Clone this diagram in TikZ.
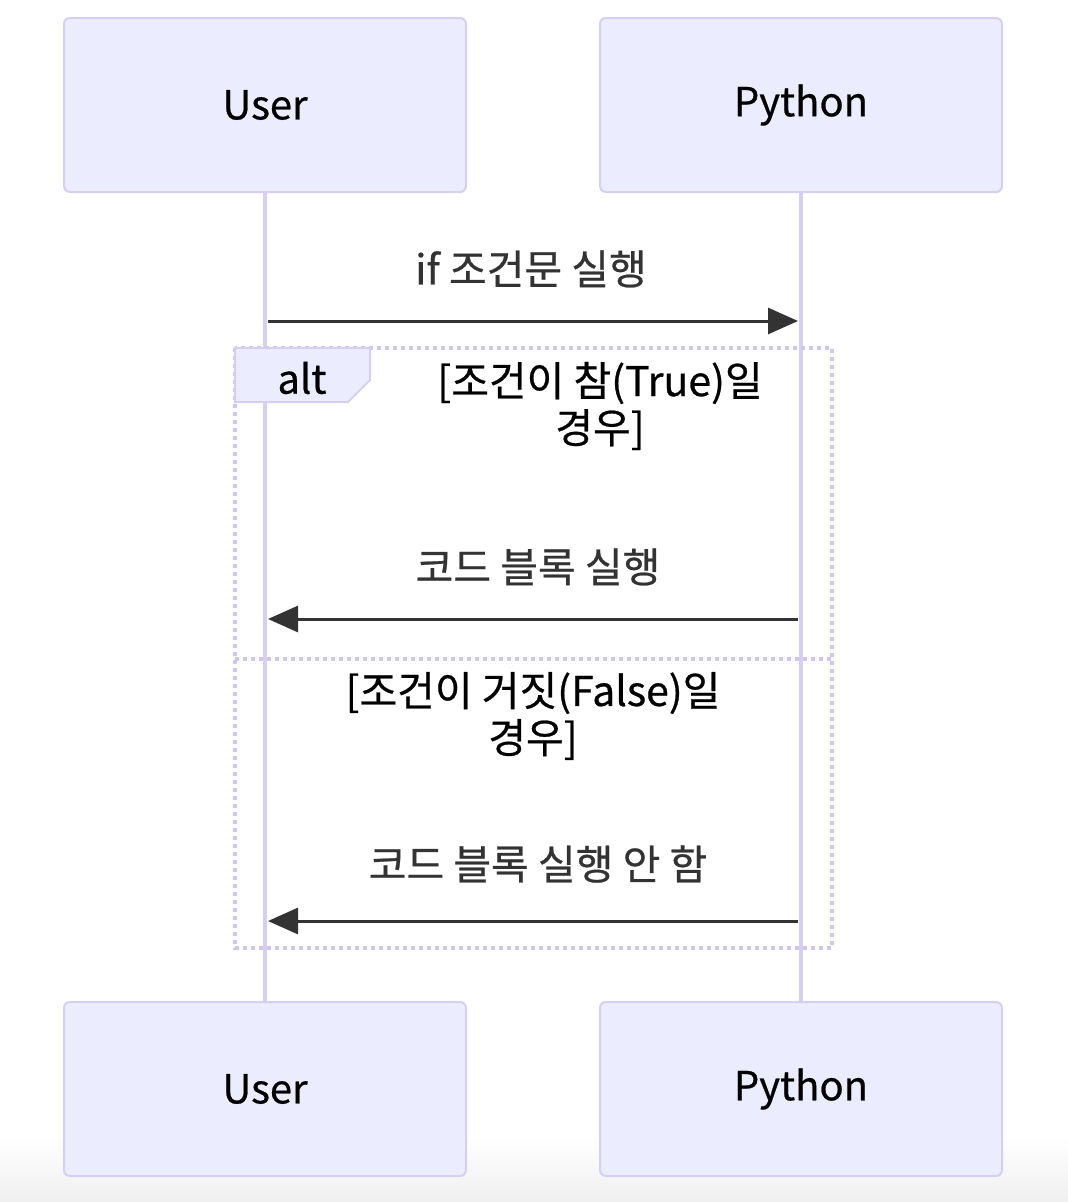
\documentclass[tikz,border=0pt]{standalone}
\usepackage{fontspec}
\setmainfont{Noto Sans CJK KR}[FakeBold=0.6]
\usetikzlibrary{arrows.meta}
\definecolor{actorfill}{HTML}{ECECFF}
\definecolor{actorline}{HTML}{D6CFF2}
\definecolor{frameline}{HTML}{CFC6F0}
\definecolor{msgline}{HTML}{333333}
\tikzset{
  actor/.style={draw=actorline, fill=actorfill, line width=2pt, rounded corners=6pt,
    minimum width=402pt, minimum height=174pt, font=\fontsize{40}{46}\selectfont},
  lifeline/.style={draw=actorline, line width=4pt},
  msg/.style={draw=msgline, line width=3pt, -{Triangle[length=30pt,width=26pt]}},
  msglabel/.style={text=msgline, font=\fontsize{41}{48}\selectfont},
  altframe/.style={draw=frameline, line width=4pt, dash pattern=on 4pt off 4pt},
  cond/.style={align=center, font=\fontsize{41}{47}\selectfont}
}
\begin{document}
\begin{tikzpicture}[x=1pt,y=-1pt]
  \useasboundingbox (0,0) rectangle (1068,1202);
  \shade[top color=white, bottom color=black!6] (0,1135) rectangle (1068,1202);
  % actors
  \node[actor] (usertop) at (265,105) {User};
  \node[actor] (pytop) at (801,105) {Python};
  \node[actor] (userbot) at (265,1089) {User};
  \node[actor] (pybot) at (801,1089) {Python};
  \draw[lifeline] (usertop.south) -- (userbot.north);
  \draw[lifeline] (pytop.south) -- (pybot.north);
  % alt frame
  \draw[altframe] (235,348) rectangle (832,948);
  \draw[altframe] (235,659) -- (832,659);
  \draw[draw=actorline, fill=actorfill, line width=2pt]
    (235,348) -- (370,348) -- (370,380) -- (348,402) -- (235,402) -- cycle;
  \node[font=\fontsize{40}{46}\selectfont] (alt) at (302,378) {alt};
  \node[cond] (cond1) at (600,406) {[조건이 참(True)일\\경우]};
  \node[cond] (cond2) at (533,716) {[조건이 거짓(False)일\\경우]};
  % messages
  \coordinate (u1) at (265,321);
  \coordinate (p1) at (801,321);
  \coordinate (u2) at (265,619);
  \coordinate (p2) at (801,619);
  \coordinate (u3) at (265,921);
  \coordinate (p3) at (801,921);
  \node[msglabel] (l1) at (531,269) {if 조건문 실행};
  \node[msglabel] (l2) at (538,567) {코드 블록 실행};
  \node[msglabel] (l3) at (538,864) {코드 블록 실행 안 함};
  \draw[msg, shorten >=3pt, shorten <=3pt] (u1) -- (p1);
  \draw[msg, shorten >=3pt, shorten <=3pt] (p2) -- (u2);
  \draw[msg, shorten >=3pt, shorten <=3pt] (p3) -- (u3);
\end{tikzpicture}
\end{document}
